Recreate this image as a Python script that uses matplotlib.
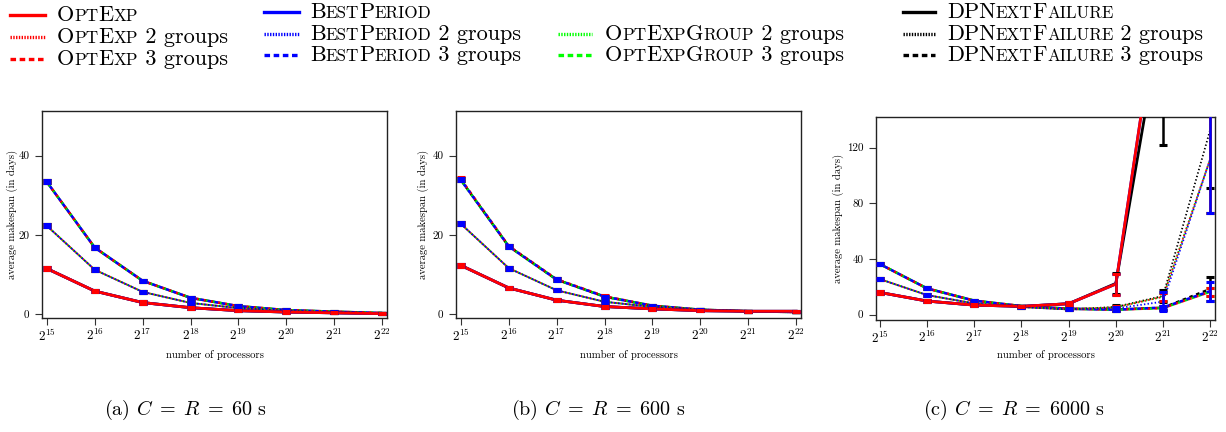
import matplotlib
matplotlib.use('Agg')
import matplotlib.pyplot as plt
from matplotlib.offsetbox import TextArea, HPacker, AnnotationBbox
from matplotlib.lines import Line2D

plt.rcParams['font.family'] = ['cmr10', 'DejaVu Serif']
plt.rcParams['mathtext.fontset'] = 'cm'
plt.rcParams['axes.unicode_minus'] = False
plt.rcParams['axes.formatter.use_mathtext'] = True
plt.rcParams['lines.scale_dashes'] = False

W, H = 1226, 432

# ---------------- data ----------------
procs_exp = [15, 16, 17, 18, 19, 20, 21, 22]
xtick_labels = [r'$2^{15}$', r'$2^{16}$', r'$2^{17}$', r'$2^{18}$',
                r'$2^{19}$', r'$2^{20}$', r'$2^{21}$', r'$2^{22}$']
captions = [r'(a) $C\;=\;R\;=\;60$ s', r'(b) $C\;=\;R\;=\;600$ s', r'(c) $C\;=\;R\;=\;6000$ s']
yticks_ab = [0, 20, 40]
yticks_c = [0, 40, 80, 120]

# panel (a) C=R=60
a_1group = [11.5, 5.8, 2.9, 1.6, 0.85, 0.5, 0.3, 0.1]
a_2groups = [22.3, 11.2, 5.6, 2.8, 1.5, 0.8, 0.4, 0.2]
a_3groups = [33.4, 16.8, 8.4, 4.1, 2.0, 1.0, 0.6, 0.25]
a_err = [0.4, 0.35, 0.3, 0.25, 0.2, 0.15, 0.15, 0.1]

# panel (b) C=R=600
b_1group = [12.3, 6.6, 3.5, 1.9, 1.3, 0.85, 0.7, 0.7]
b_2groups = [22.8, 11.6, 6.0, 3.1, 1.8, 1.1, 0.7, 0.5]
b_3groups = [33.9, 17.1, 8.7, 4.4, 2.1, 1.1, 0.7, 0.5]
b_3groups_red = [34.1, 17.2, 8.8, 4.5, 2.1, 1.1, 0.7, 0.5]
b_err = [0.4, 0.35, 0.3, 0.25, 0.2, 0.15, 0.15, 0.1]

# panel (c) C=R=6000
c_1group_red = [16.0, 9.8, 6.9, 6.0, 7.9, 22.0, 249.0, 600.0]
c_1group_blue = [16.0, 9.8, 6.9, 6.0, 7.9, 22.0, 249.0, 600.0]
c_1group_black = [16.0, 9.8, 6.9, 6.0, 7.9, 22.5, 219.0, 560.0]
c_1group_err = [1.0, 0.8, 0.6, 0.5, 1.2, 7.5, 40.0, 80.0]
c_1group_black_err = [1.0, 0.8, 0.6, 0.5, 1.2, 7.5, 97.0, 80.0]
c_2groups = [25.6, 14.1, 8.1, 5.5, 3.8, 5.3, 12.9, 112.0]
c_2groups_blue = [25.6, 14.1, 8.1, 5.5, 3.8, 4.5, 9.4, 112.0]
c_2groups_black = [25.6, 14.1, 8.1, 5.5, 3.8, 5.6, 13.5, 133.0]
c_2groups_err = [0.8, 0.6, 0.5, 0.4, 0.4, 1.0, 3.0, 39.0]
c_2groups_blue_err = [0.8, 0.6, 0.5, 0.4, 0.4, 1.0, 6.7, 39.0]
c_2groups_black_err = [0.8, 0.6, 0.5, 0.4, 0.4, 1.2, 4.2, 42.0]
c_3groups = [36.4, 18.9, 10.1, 6.2, 4.3, 3.6, 4.8, 16.5]
c_3groups_blue = [36.4, 18.9, 10.1, 6.2, 4.3, 3.6, 5.2, 17.0]
c_3groups_black = [36.4, 18.9, 10.1, 6.2, 4.3, 3.8, 5.0, 18.5]
c_3groups_err = [1.0, 0.7, 0.5, 0.4, 0.4, 0.6, 1.2, 3.0]
c_3groups_blue_err = [1.0, 0.7, 0.5, 0.4, 0.4, 0.6, 1.3, 6.8]
c_3groups_black_err = [1.0, 0.7, 0.5, 0.4, 0.4, 0.8, 1.5, 8.8]

# ---------------- styles ----------------
RED, BLUE, GREEN, BLACK = '#ff0000', '#0000ff', '#00e000', '#000000'
dot_dash = (1.0, 1.6)
dash_dash = (2.6, 2.6)


def draw_panel(ax, g1, g2, g3):
    for vals, err, col, off in g3:
        ax.plot(procs_exp, vals, color=col, ls=(off, dash_dash), lw=1.8, zorder=2)
    for vals, err, col, off in g2:
        ax.plot(procs_exp, vals, color=col, ls=(off, dot_dash), lw=1.3, zorder=2)
    for vals, err, col, off in g1:
        ax.plot(procs_exp, vals, color=col, ls='-', lw=2.0, zorder=3)
    for grp in (g3, g2, g1):
        for vals, err, col, off in grp:
            ax.errorbar(procs_exp, vals, yerr=err, fmt='none', ecolor=col,
                        elinewidth=1.8, capsize=3.2, capthick=2.2, zorder=4)


fig = plt.figure(figsize=(W / 100, H / 100), dpi=100)

ax_pos = [(42, 111, 387, 318), (456, 111, 801, 318), (876, 117, 1215, 320)]
axes = []
for (l, t, r, b) in ax_pos:
    axes.append(fig.add_axes([l / W, 1 - b / H, (r - l) / W, (b - t) / H]))

draw_panel(axes[0],
           [(a_1group, a_err, BLACK, 0), (a_1group, a_err, BLUE, 0), (a_1group, a_err, RED, 0)],
           [(a_2groups, a_err, BLACK, 0), (a_2groups, a_err, GREEN, 0.6), (a_2groups, a_err, RED, 1.3),
            (a_2groups, a_err, BLUE, 2.0)],
           [(a_3groups, a_err, BLACK, 3.9), (a_3groups, a_err, GREEN, 2.6), (a_3groups, a_err, RED, 0),
            (a_3groups, a_err, BLUE, 1.3)])
draw_panel(axes[1],
           [(b_1group, b_err, BLACK, 0), (b_1group, b_err, BLUE, 0), (b_1group, b_err, RED, 0)],
           [(b_2groups, b_err, BLACK, 0), (b_2groups, b_err, GREEN, 0.6), (b_2groups, b_err, RED, 1.3),
            (b_2groups, b_err, BLUE, 2.0)],
           [(b_3groups, b_err, BLACK, 3.9), (b_3groups, b_err, GREEN, 2.6), (b_3groups_red, b_err, RED, 0),
            (b_3groups, b_err, BLUE, 1.3)])
draw_panel(axes[2],
           [(c_1group_black, c_1group_black_err, BLACK, 0), (c_1group_blue, c_1group_err, BLUE, 0),
            (c_1group_red, c_1group_err, RED, 0)],
           [(c_2groups_black, c_2groups_black_err, BLACK, 0), (c_2groups, c_2groups_err, GREEN, 0.6),
            (c_2groups, c_2groups_err, RED, 1.3), (c_2groups_blue, c_2groups_blue_err, BLUE, 2.0)],
           [(c_3groups_black, c_3groups_black_err, BLACK, 3.9), (c_3groups, c_3groups_err, GREEN, 2.6),
            (c_3groups, c_3groups_err, RED, 0), (c_3groups_blue, c_3groups_blue_err, BLUE, 1.3)])

ylims = [(-1.0, 51.3), (-1.0, 51.3), (-3.8, 142.0)]
xlims = [(14.9, 22.1), (14.9, 22.1), (14.92, 22.1)]
yticks = [yticks_ab, yticks_ab, yticks_c]
ylab_x = [-0.087, -0.096, -0.112]
xlab_y = [-0.179, -0.179, -0.172]
for i, ax in enumerate(axes):
    ax.set_xlim(*xlims[i])
    ax.set_ylim(*ylims[i])
    ax.set_xticks(procs_exp)
    ax.set_xticklabels(xtick_labels, fontsize=9.5)
    ax.set_yticks(yticks[i])
    ax.set_yticklabels([str(v) for v in yticks[i]], fontsize=8)
    ax.tick_params(direction='out', length=5, width=0.8, color='#333333', pad=2)
    ax.tick_params(axis='y', pad=4)
    for sp in ax.spines.values():
        sp.set_linewidth(1.0)
        sp.set_color('#222222')
    ax.set_ylabel('average makespan (in days)', fontsize=7.7)
    ax.set_xlabel('number of processors', fontsize=7.7)
    ax.yaxis.label.set_va('center')
    ax.xaxis.label.set_va('center')
    ax.yaxis.set_label_coords(ylab_x[i], 0.5)
    ax.xaxis.set_label_coords(0.5, xlab_y[i])

cap_x = [186, 598, 1014]
for cx, txt in zip(cap_x, captions):
    fig.text(cx / W, 1 - 410 / H, txt, ha='center', va='center', fontsize=14.5)


# ---------------- legend (small caps) ----------------
def sc_label(name, suffix, big=16.0, small=12.3):
    parts = []
    buf, cur = '', None
    for ch in name:
        up = ch.isupper()
        if cur is None or up == cur:
            buf += ch
        else:
            parts.append((buf, cur))
            buf = ch
        cur = up
    parts.append((buf, cur))
    children = [TextArea(t if u else t.upper(), textprops=dict(fontsize=big if u else small))
                for t, u in parts]
    if suffix:
        children.append(TextArea(suffix, textprops=dict(fontsize=big)))
    return HPacker(children=children, align='baseline', pad=0, sep=0)


legend_cols = [
    (10, 45, 57, [('OptExp', '', RED, 'solid', 15), ('OptExp', ' 2 groups', RED, 'dot', 37),
                  ('OptExp', ' 3 groups', RED, 'dash', 59)]),
    (264, 299, 310, [('BestPeriod', '', BLUE, 'solid', 12), ('BestPeriod', ' 2 groups', BLUE, 'dot', 34),
                     ('BestPeriod', ' 3 groups', BLUE, 'dash', 55)]),
    (558, 592, 605, [('OptExpGroup', ' 2 groups', '#00ff00', 'dot', 34),
                     ('OptExpGroup', ' 3 groups', '#00ff00', 'dash', 55)]),
    (903, 935, 947, [('DPNextFailure', '', BLACK, 'solid', 12), ('DPNextFailure', ' 2 groups', BLACK, 'dot', 34),
                     ('DPNextFailure', ' 3 groups', BLACK, 'dash', 55)]),
]
for x0, x1, xt, entries in legend_cols:
    for name, suffix, col, sty, y in entries:
        yf = 1 - y / H
        if sty == 'dot':
            lstyle = (0, (1.0, 1.0))
        elif sty == 'dash':
            lstyle = (0, (4.0, 2.6))
        else:
            lstyle = '-'
        ln = Line2D([x0 / W, x1 / W], [yf, yf], transform=fig.transFigure, color=col, lw=2.4, ls=lstyle)
        fig.add_artist(ln)
        box = sc_label(name, suffix)
        ab = AnnotationBbox(box, (xt, H - y), xycoords='figure pixels', box_alignment=(0, 0.5),
                            frameon=False, pad=0)
        fig.add_artist(ab)

fig.savefig('out.png', dpi=100)
